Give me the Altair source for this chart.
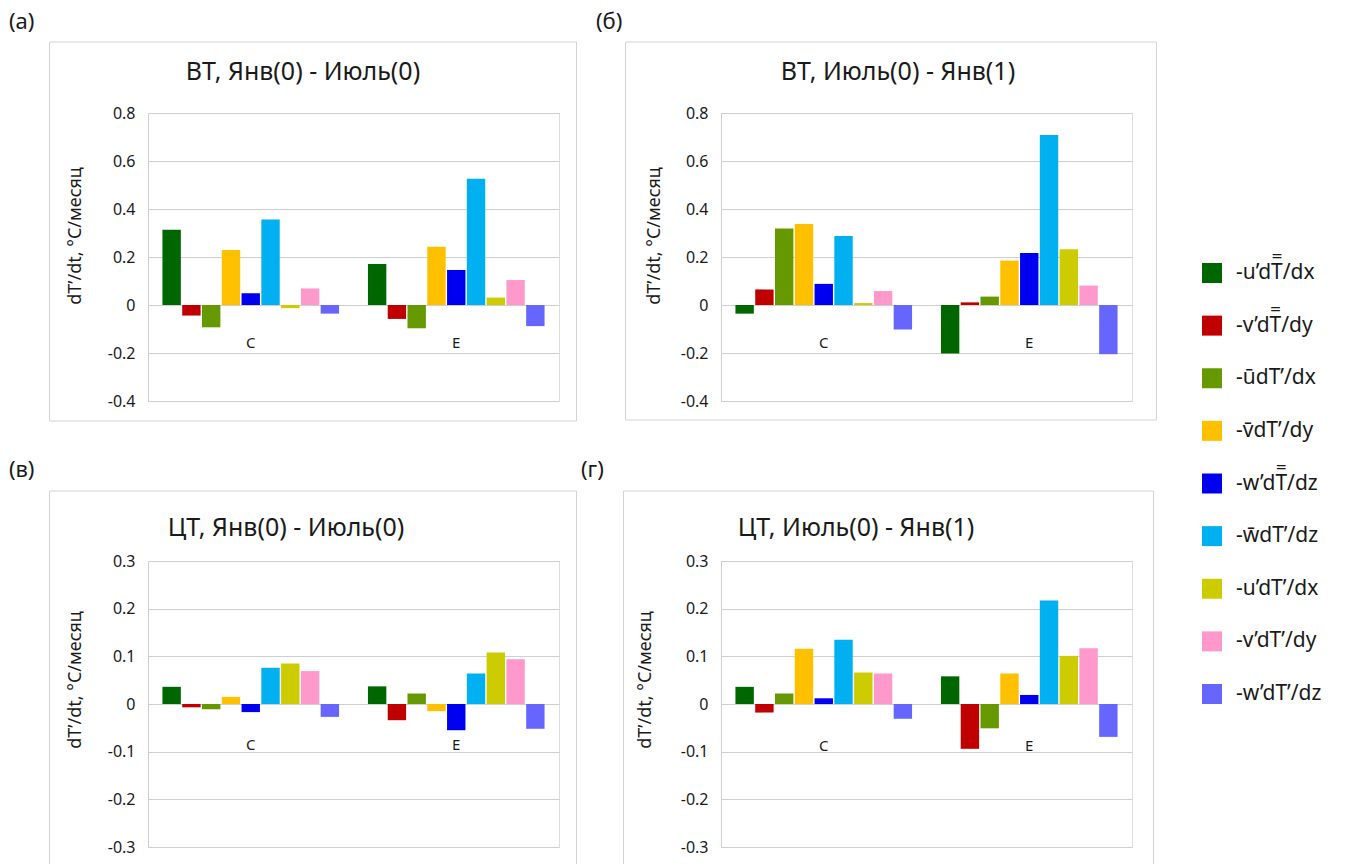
import altair as alt
import pandas as pd

# Heat-budget terms of temperature tendency (legend order)
COMPONENTS = [
    "-u’dT\u033f/dx", "-v’dT\u033f/dy", "-ūdT’/dx", "-v\u0304dT’/dy",
    "-w’dT\u033f/dz", "-w\u0304dT’/dz", "-u’dT’/dx", "-v’dT’/dy", "-w’dT’/dz",
]
COLORS = ["#006600", "#c00000", "#669900", "#ffc000", "#0000f0",
          "#00b0f0", "#cccc00", "#ff99cc", "#6666ff"]
REGIONS = ["C", "E"]

TICKS_VT = [-0.4, -0.2, 0, 0.2, 0.4, 0.6, 0.8]
TICKS_CT = [-0.3, -0.2, -0.1, 0, 0.1, 0.2, 0.3]

# (а) ВТ, Янв(0) - Июль(0)
VT_JAN_JUL_C = [0.314, -0.044, -0.093, 0.229, 0.049, 0.356, -0.013, 0.069, -0.036]
VT_JAN_JUL_E = [0.171, -0.058, -0.097, 0.243, 0.146, 0.526, 0.031, 0.104, -0.088]
# (б) ВТ, Июль(0) - Янв(1)
VT_JUL_JAN_C = [-0.036, 0.065, 0.319, 0.337, 0.088, 0.288, 0.008, 0.058, -0.102]
VT_JUL_JAN_E = [-0.202, 0.011, 0.035, 0.185, 0.217, 0.708, 0.232, 0.081, -0.205]
# (в) ЦТ, Янв(0) - Июль(0)
CT_JAN_JUL_C = [0.036, -0.007, -0.011, 0.015, -0.017, 0.076, 0.085, 0.069, -0.027]
CT_JAN_JUL_E = [0.037, -0.034, 0.022, -0.015, -0.055, 0.064, 0.108, 0.094, -0.052]
# (г) ЦТ, Июль(0) - Янв(1)
CT_JUL_JAN_C = [0.036, -0.018, 0.022, 0.116, 0.012, 0.135, 0.066, 0.064, -0.031]
CT_JUL_JAN_E = [0.058, -0.094, -0.051, 0.064, 0.019, 0.217, 0.101, 0.117, -0.069]

FONT = "Noto Sans"
TEXT = "#1a1a1a"
GRID = "#cfcfcf"
FRAME = "#d4d4d4"
W, H = 411, 288
Y_TITLE = "dT’/dt, °C/месяц"

color_scale = alt.Scale(domain=COMPONENTS, range=COLORS)
one = pd.DataFrame({"k": [0]})


def rule(x1, x2, y1, y2):
    return alt.Chart(one).mark_rule(color=FRAME, strokeWidth=1).encode(
        x=alt.value(x1), x2=alt.value(x2), y=alt.value(y1), y2=alt.value(y2)
    )


def panel(tag, title, c_vals, e_vals, ticks, geo, height=H):
    rows = []
    for region, vals in zip(REGIONS, (c_vals, e_vals)):
        for comp, v in zip(COMPONENTS, vals):
            rows.append({"region": region, "comp": comp, "value": v})
    df = pd.DataFrame(rows)

    x_enc = alt.X("region:N", sort=REGIONS, axis=None,
                  scale=alt.Scale(paddingInner=0, paddingOuter=0))
    y_scale = alt.Scale(domain=[ticks[0], ticks[-1]], nice=False)

    bars = alt.Chart(df).mark_bar().encode(
        x=x_enc,
        xOffset=alt.XOffset("comp:N", sort=COMPONENTS,
                            scale=alt.Scale(paddingInner=0.07, paddingOuter=0.73)),
        y=alt.Y("value:Q", scale=y_scale, title=None,
                axis=alt.Axis(values=ticks, grid=True, gridColor=GRID, gridWidth=1,
                              domain=True, domainColor=GRID, ticks=False,
                              labelFont=FONT, labelFontSize=16, labelColor=TEXT,
                              labelPadding=13,
                              labelExpr="(datum.value < 0 ? '-' : '') + format(abs(datum.value), '~g')")),
        y2=alt.datum(0),
        color=alt.Color("comp:N", scale=color_scale, legend=None),
    )

    cats = alt.Chart(pd.DataFrame({"region": REGIONS})).mark_text(
        font=FONT, fontSize=15, color=TEXT, baseline="middle", dy=geo["label_dy"]
    ).encode(x=x_enc, y=alt.datum(0), text="region:N")

    fx1, fx2, fy1, fy2 = geo["frame"]
    frame = [rule(fx1, fx2, fy1, fy1), rule(fx1, fx1, fy1, fy2), rule(fx2, fx2, fy1, fy2)]
    if geo["closed"]:
        frame.append(rule(fx1, fx2, fy2, fy2))

    head = alt.Chart(one).mark_text(
        text=title, font=FONT, fontSize=25, color=TEXT, align="center", baseline="middle"
    ).encode(x=alt.value(geo["title_x"]), y=alt.value(geo["title_y"]))

    label = alt.Chart(one).mark_text(
        text=tag, font=FONT, fontSize=22, color=TEXT, align="left", baseline="middle"
    ).encode(x=alt.value(geo["tag_x"]), y=alt.value(-91))

    ytitle = alt.Chart(one).mark_text(
        text=Y_TITLE, font=FONT, fontSize=18, color=TEXT, angle=270,
        align="center", baseline="middle"
    ).encode(x=alt.value(geo["ytitle_x"]), y=alt.value(geo["ytitle_y"]))

    return alt.layer(*frame, bars, cats, head, label, ytitle)


# Shared legend, laid out beside panel (б) with its own vertical scale
leg_base = alt.Chart(pd.DataFrame({"comp": COMPONENTS}))
leg_y = alt.Y("comp:N", sort=COMPONENTS, axis=None,
              scale=alt.Scale(type="point", range=[160, 581], padding=0))
leg_sq = leg_base.mark_square(size=400, opacity=1).encode(
    x=alt.value(491), y=leg_y,
    color=alt.Color("comp:N", scale=color_scale, legend=None),
)
leg_tx = leg_base.mark_text(
    font=FONT, fontSize=21, color=TEXT, align="left", baseline="middle"
).encode(x=alt.value(515), y=leg_y, text="comp:N")
legend = alt.layer(leg_sq, leg_tx)

pa = panel("(а)", "ВТ, Янв(0) - Июль(0)", VT_JAN_JUL_C, VT_JAN_JUL_E, TICKS_VT,
           dict(title_x=155, title_y=-41, tag_x=-139, ytitle_x=-72, ytitle_y=123,
                label_dy=38, frame=(-98.5, 428.5, -71, 308), closed=True)
           ).properties(width=W, height=H)
pb = alt.layer(
    panel("(б)", "ВТ, Июль(0) - Янв(1)", VT_JUL_JAN_C, VT_JUL_JAN_E, TICKS_VT,
          dict(title_x=177, title_y=-41, tag_x=-125, ytitle_x=-66, ytitle_y=123,
               label_dy=38, frame=(-95.5, 435.5, -71, 307), closed=True)),
    legend,
).resolve_scale(y="independent").properties(width=W, height=H)
pv = panel("(в)", "ЦТ, Янв(0) - Июль(0)", CT_JAN_JUL_C, CT_JAN_JUL_E, TICKS_CT,
           dict(title_x=138, title_y=-33, tag_x=-139, ytitle_x=-72, ytitle_y=119,
                label_dy=41, frame=(-98.5, 428.5, -70, 303), closed=False)
           ).properties(width=W, height=286)
pg = panel("(г)", "ЦТ, Июль(0) - Янв(1)", CT_JUL_JAN_C, CT_JUL_JAN_E, TICKS_CT,
           dict(title_x=135, title_y=-33, tag_x=-140, ytitle_x=-75, ytitle_y=119,
                label_dy=42, frame=(-97.5, 432.5, -70, 303), closed=False)
           ).properties(width=W, height=286)

chart = alt.concat(
    pa, pb, pv, pg, columns=2, spacing={"row": 160, "column": 162}, bounds="flush"
).properties(
    padding={"left": 8, "top": 10, "right": 0, "bottom": 0}
).configure_view(stroke="transparent", strokeWidth=0).configure(background="white")

chart.save("out.html", embed_options={"renderer": "svg", "actions": False})
